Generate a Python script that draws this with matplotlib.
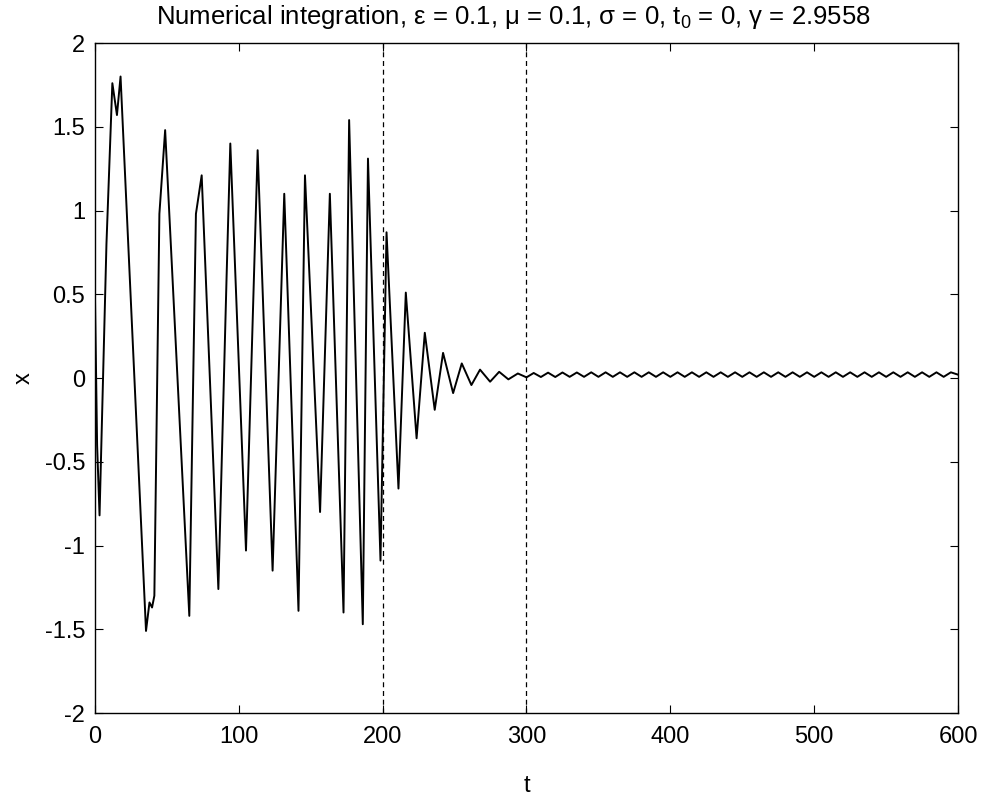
import matplotlib
matplotlib.use("Agg")
import matplotlib.pyplot as plt

FAM = ['Liberation Sans', 'DejaVu Sans']
plt.rcParams['font.family'] = FAM
plt.rcParams['mathtext.fontset'] = 'custom'
plt.rcParams['mathtext.rm'] = 'Liberation Sans'
plt.rcParams['mathtext.it'] = 'Liberation Sans'

# Transient part: extrema and visible kinks
t_main = [0, 1.5, 3.2, 8, 12.1, 15.3, 17.8, 35.5, 37.9, 39.7, 41.3, 44.8, 48.8,
          65.6, 70.2, 74.2, 85.8, 91.5, 94.1, 105, 113.1, 123.5, 131.6, 141.5,
          146, 156.5, 163.3, 172.8, 176.7, 186.2, 189.8, 198.5, 202.7, 211,
          216.1, 223.6, 229.3, 236.2, 242, 249, 255, 261.7, 267.7, 274.7, 281,
          287.4, 294]
x_main = [0.5, -0.4, -0.82, 0.8, 1.76, 1.57, 1.80, -1.51, -1.34, -1.37, -1.30,
          0.98, 1.48, -1.42, 0.98, 1.21, -1.26, 0.6, 1.40, -1.03, 1.36, -1.15,
          1.10, -1.39, 1.21, -0.80, 1.10, -1.40, 1.54, -1.47, 1.31, -1.09, 0.87,
          -0.66, 0.51, -0.36, 0.27, -0.19, 0.15, -0.09, 0.087, -0.042, 0.05,
          -0.022, 0.037, -0.008, 0.027]

# Small steady oscillation after t = 300
t_tail = [300, 305, 310, 315, 320, 325, 330, 335, 340, 345, 350, 355, 360, 365,
          370, 375, 380, 385, 390, 395, 400, 405, 410, 415, 420, 425, 430, 435,
          440, 445, 450, 455, 460, 465, 470, 475, 480, 485, 490, 495, 500, 505,
          510, 515, 520, 525, 530, 535, 540, 545, 550, 555, 560, 565, 570, 575,
          580, 585, 590, 595, 600]
x_tail = [0.004, 0.030, 0.006, 0.032, 0.006, 0.033, 0.007, 0.033, 0.007, 0.034,
          0.007, 0.034, 0.007, 0.034, 0.007, 0.034, 0.007, 0.034, 0.007, 0.034,
          0.007, 0.034, 0.007, 0.034, 0.007, 0.034, 0.007, 0.034, 0.007, 0.034,
          0.007, 0.034, 0.007, 0.034, 0.007, 0.034, 0.007, 0.034, 0.007, 0.034,
          0.007, 0.034, 0.007, 0.034, 0.007, 0.034, 0.007, 0.034, 0.007, 0.034,
          0.007, 0.034, 0.007, 0.034, 0.007, 0.034, 0.007, 0.034, 0.007, 0.034,
          0.020]

vlines = [200, 300]
xticks = [0, 100, 200, 300, 400, 500, 600]
yticks = [-2, -1.5, -1, -0.5, 0, 0.5, 1, 1.5, 2]
ytick_labels = ['-2', '-1.5', '-1', '-0.5', '0', '0.5', '1', '1.5', '2']

fig = plt.figure(figsize=(9.89, 7.98), dpi=100)
ax = fig.add_axes([0.096, 0.1065, 0.8727, 0.8396])

ax.plot(t_main + t_tail, x_main + x_tail, color='black', lw=1.4)
for v in vlines:
    ax.axvline(v, color='black', lw=0.9, ls=(0, (4, 3)))

ax.set_xlim(0, 600)
ax.set_ylim(-2, 2)
ax.set_xticks(xticks)
ax.set_xticklabels([str(v) for v in xticks])
ax.set_yticks(yticks)
ax.set_yticklabels(ytick_labels)
ax.tick_params(direction='in', length=6, width=0.8, top=True, right=True,
               labelsize=17)
ax.tick_params(axis='x', pad=9)
ax.tick_params(axis='y', pad=7)
for s in ax.spines.values():
    s.set_linewidth(1.0)

ax.set_xlabel('t', fontsize=17, labelpad=20)
ax.set_ylabel('x', fontsize=17, labelpad=7)
ax.set_title('Numerical integration, ε = 0.1, μ = 0.1, σ = 0, t$_0$ = 0, γ = 2.9558',
             fontsize=18.5, pad=14, x=0.485)

fig.savefig('out.png', dpi=100)
